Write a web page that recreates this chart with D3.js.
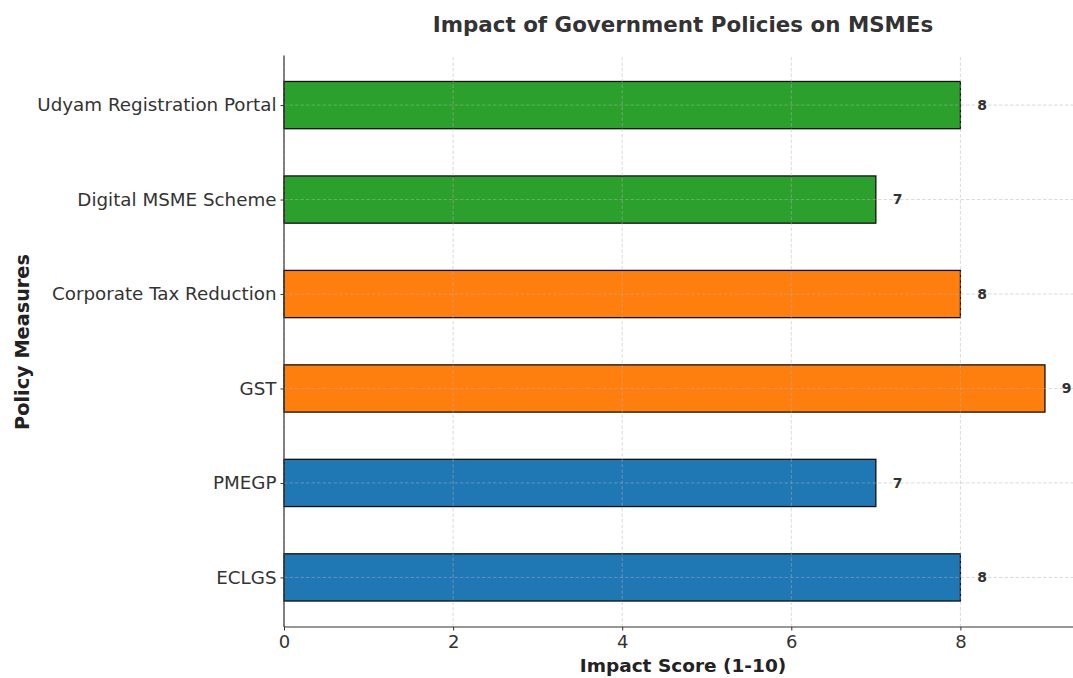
<!DOCTYPE html>
<html>
<head>
<meta charset="utf-8">
<script src="https://cdn.jsdelivr.net/npm/d3@7"></script>
<style>
  html, body { margin: 0; padding: 0; background: #fff; }
  svg { display: block; font-family: "DejaVu Sans", sans-serif; }
  svg text { font-family: "DejaVu Sans", sans-serif; }
</style>
</head>
<body>
<svg id="chart" width="1073" height="678"></svg>
<script>
// Policy measures, listed bottom to top
const categories = ["ECLGS", "PMEGP", "GST", "Corporate Tax Reduction", "Digital MSME Scheme", "Udyam Registration Portal"];
const scores = [8, 7, 9, 8, 7, 8];
const groups = ["Finance", "Finance", "Tax", "Tax", "Digital", "Digital"];
const groupNames = ["Finance", "Tax", "Digital"];
const groupColors = ["#1f77b4", "#ff7f0e", "#2ca02c"];
const xTicks = [0, 2, 4, 6, 8];

const svg = d3.select("#chart");
const margin = { left: 284, right: -10, top: 55.5, bottom: 51 };
const W = 1073, H = 678;

const x = d3.scaleLinear().domain([0, 9.45]).range([margin.left, W - margin.right]);
// barh with height 0.5 → data extent -0.25..5.25, plus 5% padding
const y = d3.scaleLinear().domain([-0.525, 5.525]).range([H - margin.bottom, margin.top]);
const color = d3.scaleOrdinal().domain(groupNames).range(groupColors);

const barH = Math.abs(y(0.25) - y(-0.25));

// Bars
svg.append("g")
  .selectAll("rect")
  .data(categories)
  .join("rect")
  .attr("x", x(0))
  .attr("y", (d, i) => y(i) - barH / 2)
  .attr("width", (d, i) => x(scores[i]) - x(0))
  .attr("height", barH)
  .attr("fill", (d, i) => color(groups[i]))
  .attr("stroke", "#111")
  .attr("stroke-width", 1.3);

// Grid (drawn over the bars)
const grid = svg.append("g").attr("stroke", "#b0b0b0").attr("stroke-opacity", 0.6)
  .attr("stroke-dasharray", "3.5,2").attr("stroke-width", 0.8);
grid.selectAll("line.v").data(xTicks).join("line").attr("class", "v")
  .attr("x1", d => x(d)).attr("x2", d => x(d))
  .attr("y1", y(-0.525)).attr("y2", y(5.525));
grid.selectAll("line.h").data(categories).join("line").attr("class", "h")
  .attr("x1", x(0)).attr("x2", W)
  .attr("y1", (d, i) => y(i)).attr("y2", (d, i) => y(i));

// Axes
const xAxis = d3.axisBottom(x).tickValues(xTicks).tickSize(3.5).tickPadding(3).tickFormat(d3.format("d"));
const gx = svg.append("g").attr("transform", `translate(0,${y(-0.525)})`).call(xAxis)
  .attr("font-family", "DejaVu Sans");
gx.select(".domain").remove();
gx.selectAll(".tick line").attr("stroke", "#333");
gx.selectAll("text").attr("font-size", 18).attr("fill", "#333").attr("dy", "0.78em");

const yAxis = d3.axisLeft(y).tickValues(d3.range(categories.length)).tickSize(3.5).tickPadding(4)
  .tickFormat(i => categories[i]);
const gy = svg.append("g").attr("transform", `translate(${x(0)},0)`).call(yAxis)
  .attr("font-family", "DejaVu Sans");
gy.select(".domain").remove();
gy.selectAll(".tick line").attr("stroke", "#333");
gy.selectAll("text").attr("font-size", 18.3).attr("fill", "#333");

// Spines: left and bottom only
svg.append("line").attr("x1", x(0)).attr("x2", x(0)).attr("y1", y(5.525)).attr("y2", y(-0.525))
  .attr("stroke", "#333").attr("stroke-width", 1.2);
svg.append("line").attr("x1", x(0)).attr("x2", W).attr("y1", y(-0.525)).attr("y2", y(-0.525))
  .attr("stroke", "#333").attr("stroke-width", 1.2);

// Value labels
svg.append("g")
  .selectAll("text")
  .data(scores)
  .join("text")
  .attr("x", d => x(d + 0.2))
  .attr("y", (d, i) => y(i))
  .attr("dy", "0.35em")
  .attr("font-size", 14)
  .attr("font-weight", "bold")
  .attr("fill", "#333")
  .text(d => d);

// Title and axis labels
svg.append("text").attr("x", 683).attr("y", 32).attr("text-anchor", "middle")
  .attr("font-size", 21.4).attr("font-weight", "bold").attr("fill", "#333")
  .text("Impact of Government Policies on MSMEs");
svg.append("text").attr("x", 683).attr("y", 672).attr("text-anchor", "middle")
  .attr("font-size", 18.5).attr("font-weight", "bold").attr("fill", "#222")
  .text("Impact Score (1-10)");
svg.append("text").attr("transform", "translate(29,342) rotate(-90)").attr("text-anchor", "middle")
  .attr("font-size", 19.3).attr("font-weight", "bold").attr("fill", "#222")
  .text("Policy Measures");
</script>
</body>
</html>
